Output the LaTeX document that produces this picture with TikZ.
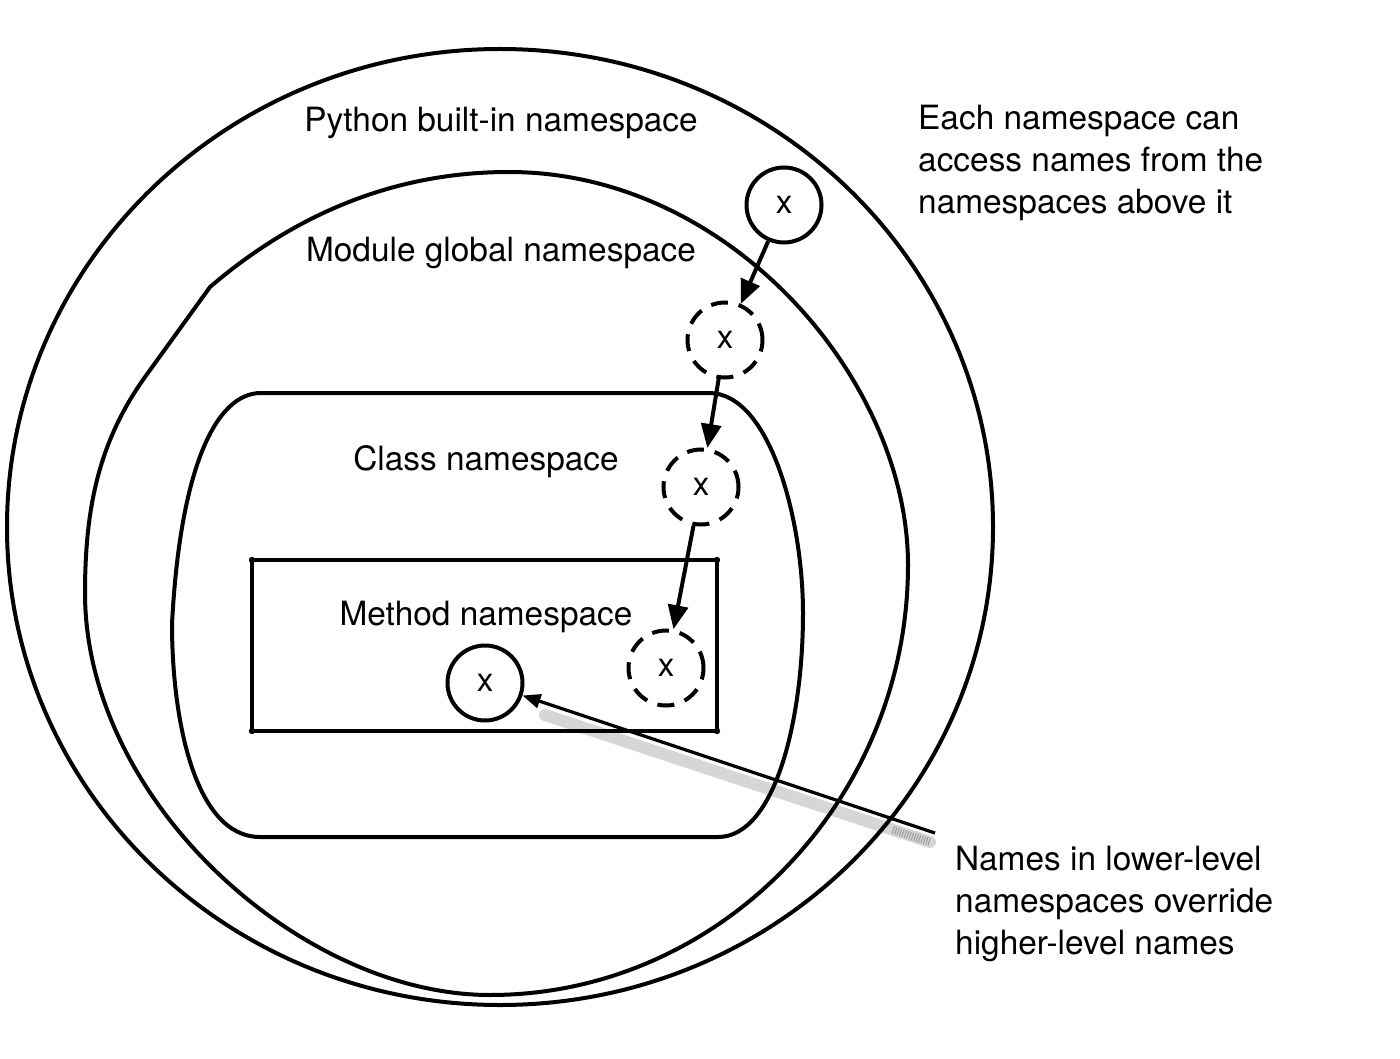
\documentclass[tikz,border=0pt]{standalone}
\usepackage{fontspec}
\setmainfont{TeX Gyre Heros}
\usetikzlibrary{arrows.meta}
\begin{document}
\begin{tikzpicture}[x=1pt,y=-1pt,
  txt/.style={font=\fontsize{33.4}{42.5}\selectfont, inner sep=0},
  lbl/.style={txt, anchor=base},
  side/.style={txt, anchor=base west},
  xsolid/.style={circle, draw, line width=4pt, minimum size=75pt, inner sep=0,
     font=\fontsize{33}{40}\selectfont},
  xdash/.style={xsolid, dash pattern=on 17pt off 11pt},
  ns/.style={line width=4pt, line join=round},
  flow/.style={line width=4pt, -{Triangle[length=24pt,width=20pt]}},
  callout/.style={line width=3.2pt, -{Triangle[length=18pt,width=14pt]}},
  shadow/.style={line width=12pt, black!16, line cap=round}]
\fill[white] (0,0) rectangle (1400,1059);
\useasboundingbox (0,0) rectangle (1400,1059);

% callout shadow
\coordinate (sh1) at (545,715);
\coordinate (sh2) at (930,842);
\coordinate (sh3) at (893,830);
\draw[shadow] (sh1) -- (sh2);
\draw[line width=8pt, black!40, dash pattern=on 1pt off 1.5pt] (sh3) -- (sh2);

% outer: Python built-in namespace
\draw[ns] (500,527) ellipse [x radius=493pt, y radius=478pt];

% module global namespace
\draw[ns] (210,287) .. controls (300,210) and (400,172) .. (509,172)
  .. controls (730,172) and (908,380) .. (908,565)
  .. controls (908,800) and (720,995) .. (490,995)
  .. controls (300,995) and (85,800) .. (85,593)
  .. controls (85,505) and (100,440) .. (145,377) -- cycle;

% class namespace
\draw[ns] (261,393) -- (709,393)
  .. controls (770,393) and (803,520) .. (803,613)
  .. controls (803,720) and (775,837) .. (718,837)
  -- (260,837)
  .. controls (195,837) and (172,720) .. (172,624)
  .. controls (180,470) and (215,393) .. (261,393) -- cycle;

% method namespace
\draw[ns] (252,560) rectangle (717,731);
\foreach \p in {(252,560),(717,560),(252,731),(717,731)} \fill \p circle[radius=3.2pt];

% labels
\node[lbl] (tpy) at (501,132) {Python built-in namespace};
\node[lbl] (tmod) at (501,262) {Module global namespace};
\node[lbl] (tcls) at (486,470) {Class namespace};
\node[lbl] (tmet) at (486,625) {Method namespace};

\node[side] (e1) at (918,130) {Each namespace can};
\node[side] (e2) at (918,172) {access names from the};
\node[side] (e3) at (918,214) {namespaces above it};

\node[side] (n1) at (955,870) {Names in lower-level};
\node[side] (n2) at (955,912) {namespaces override};
\node[side] (n3) at (955,954) {higher-level names};

% x circles
\node[xsolid] (c1) at (784,205) {x};
\node[xdash]  (c2) at (725,340) {x};
\node[xdash]  (c3) at (701,487) {x};
\node[xdash]  (c4) at (666,668) {x};
\node[xsolid] (c5) at (485,683) {x};

\draw[flow] (c1) -- (c2);
\draw[flow] (c2) -- (c3);
\draw[flow] (c3) -- (c4);

\coordinate (cend) at (935,833);
\draw[callout] (cend) -- (c5);
\end{tikzpicture}
\end{document}
